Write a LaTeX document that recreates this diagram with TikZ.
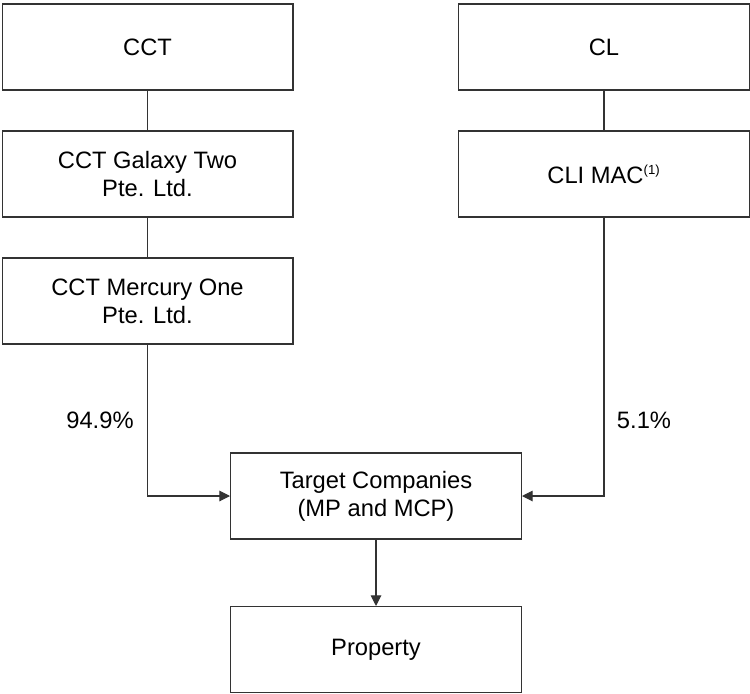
\documentclass[tikz,border=0pt]{standalone}
\usepackage{fontspec}
\setmainfont{Liberation Sans}
\usetikzlibrary{arrows.meta}
\tikzset{
  entity/.style={draw=black!80, line width=0.6pt, minimum width=5.82cm, minimum height=1.72cm,
    inner sep=0pt, align=center, font=\fontsize{13.5}{16}\selectfont},
  link/.style={draw=black!80, line width=0.6pt},
  owned/.style={link, -{Triangle[length=6pt,width=6pt]}},
  share/.style={font=\fontsize{13.5}{16}\selectfont}
}
\begin{document}
\begin{tikzpicture}[x=0.02cm,y=-0.02cm]
\useasboundingbox (0,0) rectangle (750,693);
% left chain
\node[entity] (cct) at (147.5,47) {CCT};
\node[entity] (galaxy) at (147.5,174) {CCT Galaxy Two\\Pte. Ltd.};
\node[entity] (mercury) at (147.5,301) {CCT Mercury One\\Pte. Ltd.};
% right chain
\node[entity] (cl) at (604,47) {CL};
\node[entity] (climac) at (604,174) {CLI MAC\textsuperscript{\fontsize{7.5}{8}\selectfont(1)}};
% bottom
\node[entity] (target) at (376,496) {Target Companies\\(MP and MCP)};
\node[entity] (property) at (376,649.5) {Property};
\draw[link] (cct) -- (galaxy);
\draw[link] (galaxy) -- (mercury);
\draw[link] (cl) -- (climac);
\draw[owned] (mercury) |- (target);
\draw[owned] (climac) |- (target);
\draw[owned] (target) -- (property);
\node[share] (left share) at (100,420) {94.9\%};
\node[share] (right share) at (644,420) {5.1\%};
\end{tikzpicture}
\end{document}
